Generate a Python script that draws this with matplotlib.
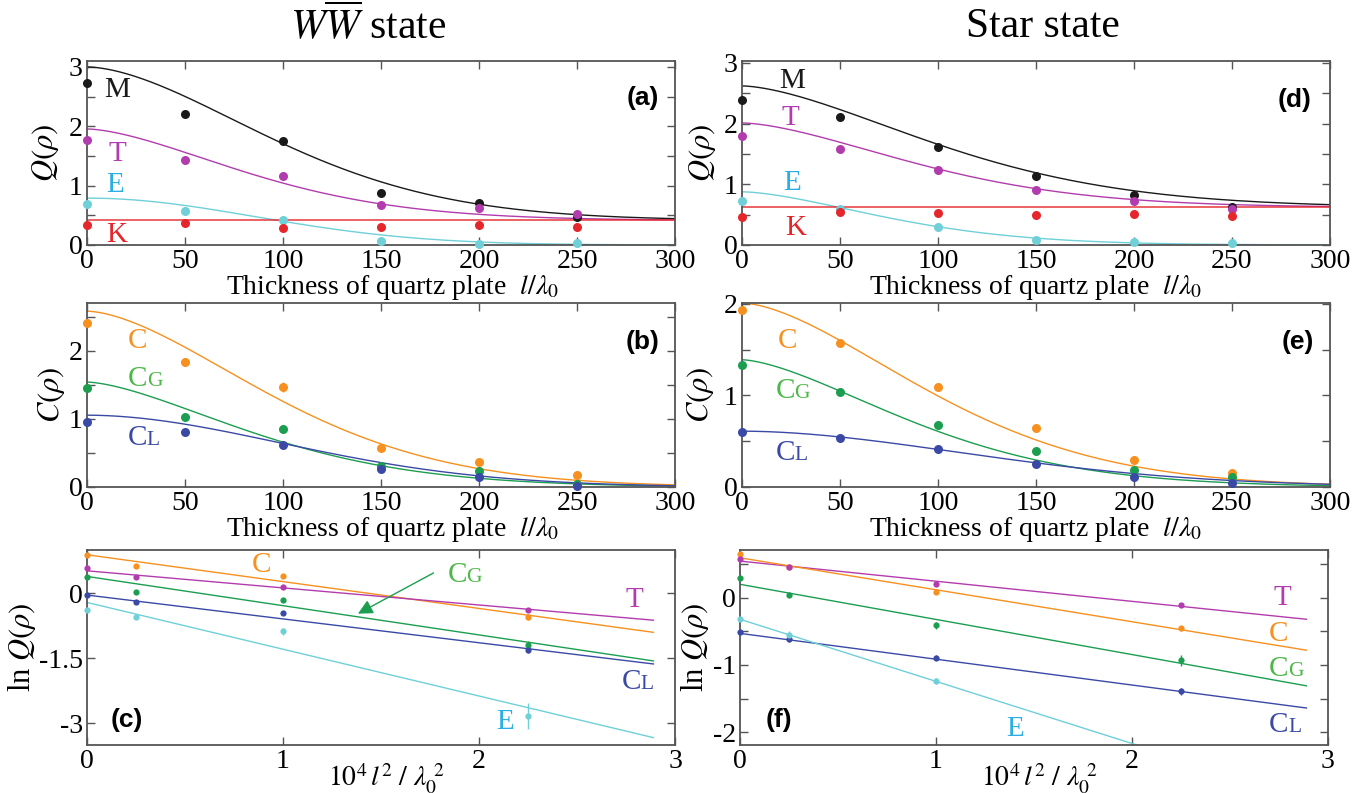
import numpy as np
import matplotlib
matplotlib.use("Agg")
import matplotlib.pyplot as plt


# -----------------------------
# Fonts
# -----------------------------
plt.rcParams["font.family"] = "serif"
plt.rcParams["font.serif"] = ["Liberation Serif", "DejaVu Serif"]
plt.rcParams["mathtext.fontset"] = "stix"
plt.rcParams["axes.unicode_minus"] = False

# -----------------------------
# Data: thickness scans (panels a, b, d, e)
# -----------------------------
thickness = [0, 50, 100, 150, 200, 250]

# WW-bar state, Q(rho)
ww_M = [2.73, 2.21, 1.76, 0.87, 0.70, 0.47]
ww_T = [1.77, 1.43, 1.17, 0.67, 0.62, 0.52]
ww_E = [0.69, 0.58, 0.42, 0.07, 0.02, 0.03]
ww_K = [0.33, 0.37, 0.28, 0.30, 0.33, 0.30]
ww_M_err = [0.05, 0.05, 0.06, 0.05, 0.04, 0.04]
ww_T_err = [0.04, 0.04, 0.06, 0.04, 0.04, 0.04]
ww_small_err = [0.03, 0.03, 0.03, 0.03, 0.03, 0.03]

# WW-bar state, C(rho)
ww_C = [2.40, 1.83, 1.47, 0.57, 0.37, 0.17]
ww_CG = [1.45, 1.03, 0.85, 0.31, 0.23, 0.04]
ww_CL = [0.95, 0.80, 0.62, 0.27, 0.14, 0.01]
ww_C_err = [0.05, 0.05, 0.07, 0.05, 0.05, 0.05]
ww_CG_err = [0.04, 0.04, 0.06, 0.04, 0.04, 0.03]

# Star state, Q(rho)
st_M = [2.39, 2.11, 1.62, 1.135, 0.82, 0.63]
st_T = [1.79, 1.58, 1.23, 0.90, 0.72, 0.60]
st_E = [0.73, 0.59, 0.29, 0.09, 0.05, 0.03]
st_K = [0.46, 0.54, 0.535, 0.50, 0.51, 0.48]

# Star state, C(rho)
st_C = [1.93, 1.575, 1.09, 0.64, 0.30, 0.15]
st_CG = [1.33, 1.04, 0.68, 0.39, 0.19, 0.11]
st_CL = [0.60, 0.54, 0.42, 0.255, 0.11, 0.045]

# Fit curves: value at l=0, plateau, 1/e width, shape exponent
ww_M_fit = (3.00, 0.415, 124, 1.7)
ww_T_fit = (1.955, 0.415, 107, 1.6)
ww_E_fit = (0.79, 0.0, 121, 2.0)
ww_K_level = 0.415
ww_C_fit = (2.58, 0.0, 122, 1.65)
ww_CG_fit = (1.54, 0.0, 111, 1.55)
ww_CL_fit = (1.054, 0.0, 144, 1.9)

st_M_fit = (2.62, 0.62, 130, 1.6)
st_T_fit = (2.01, 0.62, 116, 1.6)
st_E_fit = (0.876, 0.0, 96, 1.6)
st_K_level = 0.62
st_C_fit = (2.01, 0.0, 124, 1.63)
st_CG_fit = (1.39, 0.0, 113, 1.55)
st_CL_fit = (0.61, 0.0, 165, 1.85)

# -----------------------------
# Data: ln Q vs 10^4 l^2 / lambda0^2 (panels c, f)
# -----------------------------
lsq = [0, 0.25, 1, 2.25]
line_x = [0, 2.89]

ww_lnC = [0.89, 0.62, 0.39, -0.555]
ww_lnT = [0.58, 0.37, 0.14, -0.38]
ww_lnCG = [0.385, 0.04, -0.15, -1.19]
ww_lnCL = [-0.05, -0.21, -0.46, -1.31]
ww_lnE = [-0.38, -0.54, -0.88, -2.83]
ww_lnC_err = [0.03, 0.04, 0.03, 0.06]
ww_lnT_err = [0.04, 0.04, 0.04, 0.05]
ww_lnCG_err = [0.02, 0.03, 0.05, 0.09]
ww_lnCL_err = [0.03, 0.04, 0.04, 0.07]
ww_lnE_err = [0.03, 0.04, 0.08, 0.30]
ww_lnC_line = [0.89, -0.90]
ww_lnT_line = [0.52, -0.62]
ww_lnCG_line = [0.39, -1.56]
ww_lnCL_line = [-0.04, -1.63]
ww_lnE_line = [-0.21, -3.33]

st_lnC = [0.65, 0.46, 0.09, -0.455]
st_lnT = [0.575, 0.455, 0.21, -0.11]
st_lnCG = [0.29, 0.04, -0.41, -0.93]
st_lnCL = [-0.515, -0.62, -0.89, -1.39]
st_lnE = [-0.32, -0.555, -1.24]
st_lnC_err = [0.02, 0.02, 0.03, 0.04]
st_lnT_err = [0.02, 0.02, 0.03, 0.02]
st_lnCG_err = [0.03, 0.03, 0.05, 0.08]
st_lnCL_err = [0.03, 0.04, 0.04, 0.05]
st_lnE_err = [0.03, 0.06, 0.05]
st_lnC_line = [0.594, -0.78]
st_lnT_line = [0.545, -0.32]
st_lnCG_line = [0.20, -1.31]
st_lnCL_line = [-0.53, -1.64]
st_lnE_line = [-0.32, -2.99]

# -----------------------------
# Colours
# -----------------------------
BLACK = "#1a1a1a"
MAGENTA = "#b23cae"
CYAN = "#6fd0d8"
CYAN_TXT = "#2aaee3"
RED = "#e5262b"
ORANGE = "#f7901e"
GREEN = "#1c9e50"
GREEN_TXT = "#4db848"
BLUE = "#3a49a5"
FRAME = "#555555"


def decay(l, params):
    top, base, width, power = params
    return base + (top - base) * np.exp(-(l / width) ** power)


def points(ax, x, y, color, err=None, ms=6.5):
    ax.errorbar(x, y, yerr=err, fmt="o", color=color, ms=ms, mew=0,
                elinewidth=1.0, capsize=1.5, clip_on=False, zorder=4)


def tag(ax, x, y, main, color, sub=None, size=21):
    ax.text(x, y, main, color=color, fontsize=size, ha="left", va="baseline")
    if sub:
        ax.annotate(sub, xy=(x, y), xytext=(13.5, 0), textcoords="offset points",
                    color=color, fontsize=15.5, ha="left", va="baseline")


def style(ax, yticks, ylabels, xticks, xlabels):
    for s in ax.spines.values():
        s.set_color(FRAME)
        s.set_linewidth(1.3)
    ax.set_yticks(yticks)
    ax.set_yticklabels(ylabels)
    ax.set_xticks(xticks)
    ax.set_xticklabels(xlabels)
    ax.tick_params(direction="in", length=6, width=1.0, color=FRAME,
                   top=True, right=True, labelsize=20, pad=3)


def halfsteps(lo, hi):
    vals = np.arange(lo, hi + 0.01, 0.5)
    labs = [("%d" % v) if abs(v - round(v)) < 1e-9 else "" for v in vals]
    return vals, labs


def panel_tag(ax, x, y, text, ha):
    ax.text(x, y, text, transform=ax.transAxes, ha=ha, va="center",
            fontsize=19, fontweight="bold", family="Liberation Sans")


# -----------------------------
# Figure and axes
# -----------------------------
fig = plt.figure(figsize=(13.7, 7.93), dpi=100)
W, H = 1370, 793


def add_axes(x0, x1, y0, y1):
    return fig.add_axes([x0 / W, 1 - y1 / H, (x1 - x0) / W, (y1 - y0) / H])


ax_a = add_axes(87, 675, 61, 245)
ax_d = add_axes(742, 1330, 61, 245)
ax_b = add_axes(87, 675, 303, 487)
ax_e = add_axes(742, 1330, 303, 487)
ax_c = add_axes(87, 675, 550, 745)
ax_f = add_axes(740, 1328, 550, 745)

l_grid = np.linspace(0, 300, 400)
thick_ticks = [0, 50, 100, 150, 200, 250, 300]
thick_labels = [str(t) for t in thick_ticks]
thick_xlabel = r"Thickness of quartz plate  $l/\lambda_0$"
XLAB_Y = -0.152

# -----------------------------
# (a) WW-bar, Q(rho)
# -----------------------------
ax = ax_a
ax.plot(l_grid, decay(l_grid, ww_M_fit), color=BLACK, lw=1.0)
ax.plot(l_grid, decay(l_grid, ww_T_fit), color=MAGENTA, lw=1.0)
ax.plot(l_grid, decay(l_grid, ww_E_fit), color=CYAN, lw=1.0)
ax.axhline(ww_K_level, color=RED, lw=1.2, alpha=0.85)
points(ax, thickness, ww_M, BLACK, ww_M_err)
points(ax, thickness, ww_T, MAGENTA, ww_T_err)
points(ax, thickness, ww_E, CYAN, ww_small_err)
points(ax, thickness, ww_K, RED, ww_small_err)
tag(ax, 9, 2.49, "M", BLACK)
tag(ax, 11, 1.42, "T", MAGENTA)
tag(ax, 10, 0.89, "E", CYAN_TXT)
tag(ax, 10, 0.045, "K", RED)
ax.set_xlim(0, 300)
ax.set_ylim(0, 3.1)
yt, yl = halfsteps(0, 3)
style(ax, yt, yl, thick_ticks, thick_labels)
ax.set_ylabel(r"$Q(\rho)$", fontsize=22, va="center")
ax.yaxis.set_label_coords(-0.071, 0.5)
ax.set_xlabel(thick_xlabel, fontsize=20)
ax.xaxis.set_label_coords(0.52, XLAB_Y)
panel_tag(ax, 0.973, 0.80, "(a)", "right")

# -----------------------------
# (d) Star, Q(rho)
# -----------------------------
ax = ax_d
ax.plot(l_grid, decay(l_grid, st_M_fit), color=BLACK, lw=1.0)
ax.plot(l_grid, decay(l_grid, st_T_fit), color=MAGENTA, lw=1.0)
ax.plot(l_grid, decay(l_grid, st_E_fit), color=CYAN, lw=1.0)
ax.axhline(st_K_level, color=RED, lw=1.2, alpha=0.85)
points(ax, thickness, st_M, BLACK, ww_small_err)
points(ax, thickness, st_T, MAGENTA, ww_small_err)
points(ax, thickness, st_E, CYAN, ww_small_err)
points(ax, thickness, st_K, RED, ww_small_err)
tag(ax, 19, 2.58, "M", BLACK)
tag(ax, 20, 1.98, "T", MAGENTA)
tag(ax, 21, 0.90, "E", CYAN_TXT)
tag(ax, 22, 0.17, "K", RED)
ax.set_xlim(0, 300)
ax.set_ylim(0, 3.03)
yt, yl = halfsteps(0, 3)
style(ax, yt, yl, thick_ticks, thick_labels)
ax.set_ylabel(r"$Q(\rho)$", fontsize=22, va="center")
ax.yaxis.set_label_coords(-0.068, 0.5)
ax.set_xlabel(thick_xlabel, fontsize=20)
ax.xaxis.set_label_coords(0.5, XLAB_Y)
panel_tag(ax, 0.969, 0.79, "(d)", "right")

# -----------------------------
# (b) WW-bar, C(rho)
# -----------------------------
ax = ax_b
ax.plot(l_grid, decay(l_grid, ww_C_fit), color=ORANGE, lw=1.0)
ax.plot(l_grid, decay(l_grid, ww_CG_fit), color=GREEN, lw=1.0)
ax.plot(l_grid, decay(l_grid, ww_CL_fit), color=BLUE, lw=1.0)
points(ax, thickness, ww_C, ORANGE, ww_C_err)
points(ax, thickness, ww_CG, GREEN, ww_CG_err)
points(ax, thickness, ww_CL, BLUE, ww_small_err)
tag(ax, 21, 2.04, "C", ORANGE)
tag(ax, 21, 1.48, "C", GREEN_TXT, sub="G")
tag(ax, 21, 0.62, "C", BLUE, sub="L")
ax.set_xlim(0, 300)
ax.set_ylim(0, 2.7)
yt, yl = halfsteps(0, 2.5)
style(ax, yt, yl, thick_ticks, thick_labels)
ax.set_ylabel(r"$C(\rho)$", fontsize=22, va="center")
ax.yaxis.set_label_coords(-0.06, 0.5)
ax.set_xlabel(thick_xlabel, fontsize=20)
ax.xaxis.set_label_coords(0.52, XLAB_Y)
panel_tag(ax, 0.973, 0.79, "(b)", "right")

# -----------------------------
# (e) Star, C(rho)
# -----------------------------
ax = ax_e
ax.plot(l_grid, decay(l_grid, st_C_fit), color=ORANGE, lw=1.0)
ax.plot(l_grid, decay(l_grid, st_CG_fit), color=GREEN, lw=1.0)
ax.plot(l_grid, decay(l_grid, st_CL_fit), color=BLUE, lw=1.0)
points(ax, thickness, st_C, ORANGE, ww_small_err)
points(ax, thickness, st_CG, GREEN, ww_small_err)
points(ax, thickness, st_CL, BLUE, ww_small_err)
tag(ax, 18, 1.52, "C", ORANGE)
tag(ax, 17, 0.97, "C", GREEN_TXT, sub="G")
tag(ax, 17, 0.30, "C", BLUE, sub="L")
ax.set_xlim(0, 300)
ax.set_ylim(0, 2.01)
yt, yl = halfsteps(0, 2)
style(ax, yt, yl, thick_ticks, thick_labels)
ax.set_ylabel(r"$C(\rho)$", fontsize=22, va="center")
ax.yaxis.set_label_coords(-0.07, 0.5)
ax.set_xlabel(thick_xlabel, fontsize=20)
ax.xaxis.set_label_coords(0.5, XLAB_Y)
panel_tag(ax, 0.973, 0.79, "(e)", "right")

# -----------------------------
# (c) WW-bar, ln Q
# -----------------------------
ln_xlabel = r"$10^4\,l^2\ /\ \lambda_0^{\ 2}$"
ln_xticks = [0, 1, 2, 3]
ln_xlabels = ["0", "1", "2", "3"]

ax = ax_c
ax.plot(line_x, ww_lnC_line, color=ORANGE, lw=1.0)
ax.plot(line_x, ww_lnT_line, color=MAGENTA, lw=1.0)
ax.plot(line_x, ww_lnCG_line, color=GREEN, lw=1.0)
ax.plot(line_x, ww_lnCL_line, color=BLUE, lw=1.0)
ax.plot(line_x, ww_lnE_line, color=CYAN, lw=1.0)
points(ax, lsq, ww_lnC, ORANGE, ww_lnC_err, ms=4.5)
points(ax, lsq, ww_lnT, MAGENTA, ww_lnT_err, ms=4.5)
points(ax, lsq, ww_lnCG, GREEN, ww_lnCG_err, ms=4.5)
points(ax, lsq, ww_lnCL, BLUE, ww_lnCL_err, ms=4.5)
points(ax, lsq, ww_lnE, CYAN, ww_lnE_err, ms=4.5)
tag(ax, 0.84, 0.49, "C", ORANGE)
tag(ax, 1.84, 0.25, "C", GREEN_TXT, sub="G")
tag(ax, 2.75, -0.32, "T", MAGENTA)
tag(ax, 2.73, -2.21, "C", BLUE, sub="L")
tag(ax, 2.09, -3.14, "E", CYAN_TXT)
ax.annotate("", xy=(1.37, -0.5), xytext=(1.78, 0.5),
            arrowprops=dict(arrowstyle="-|>", color=GREEN, lw=1.0,
                            mutation_scale=22))
ax.set_xlim(0, 3)
ax.set_ylim(-3.5, 1.0)
style(ax, [-3, -1.5, 0], ["-3", "-1.5", "0"], ln_xticks, ln_xlabels)
ax.set_ylabel(r"ln $Q(\rho)$", fontsize=22, va="center")
ax.yaxis.set_label_coords(-0.11, 0.5)
ax.set_xlabel(ln_xlabel, fontsize=20)
ax.xaxis.set_label_coords(0.51, -0.085)
panel_tag(ax, 0.041, 0.13, "(c)", "left")

# -----------------------------
# (f) Star, ln Q
# -----------------------------
ax = ax_f
ax.plot(line_x, st_lnT_line, color=MAGENTA, lw=1.0)
ax.plot(line_x, st_lnC_line, color=ORANGE, lw=1.0)
ax.plot(line_x, st_lnCG_line, color=GREEN, lw=1.0)
ax.plot(line_x, st_lnCL_line, color=BLUE, lw=1.0)
ax.plot(line_x, st_lnE_line, color=CYAN, lw=1.0)
points(ax, lsq, st_lnC, ORANGE, st_lnC_err, ms=4.5)
points(ax, lsq, st_lnT, MAGENTA, st_lnT_err, ms=4.5)
points(ax, lsq, st_lnCG, GREEN, st_lnCG_err, ms=4.5)
points(ax, lsq, st_lnCL, BLUE, st_lnCL_err, ms=4.5)
points(ax, lsq[:3], st_lnE, CYAN, st_lnE_err, ms=4.5)
tag(ax, 2.72, -0.11, "T", MAGENTA)
tag(ax, 2.70, -0.65, "C", ORANGE)
tag(ax, 2.70, -1.17, "C", GREEN_TXT, sub="G")
tag(ax, 2.70, -1.99, "C", BLUE, sub="L")
tag(ax, 1.36, -2.06, "E", CYAN_TXT)
ax.set_xlim(0, 3)
ax.set_ylim(-2.19, 0.71)
yt = np.arange(-2, 0.51, 0.5)
yl = [("%d" % v) if v == round(v) else "" for v in yt]
style(ax, yt, yl, ln_xticks, ln_xlabels)
ax.set_ylabel(r"ln $Q(\rho)$", fontsize=22, va="center")
ax.yaxis.set_label_coords(-0.077, 0.5)
ax.set_xlabel(ln_xlabel, fontsize=20)
ax.xaxis.set_label_coords(0.51, -0.085)
panel_tag(ax, 0.044, 0.13, "(f)", "left")

# -----------------------------
# Column titles
# -----------------------------
fig.text(368 / W, 1 - 26 / H, r"$W\overline{W}$ state", ha="center",
         va="center", fontsize=30)
fig.text(1043 / W, 1 - 27 / H, "Star state", ha="center", va="center",
         fontsize=30)

fig.savefig("out.png", dpi=100)
